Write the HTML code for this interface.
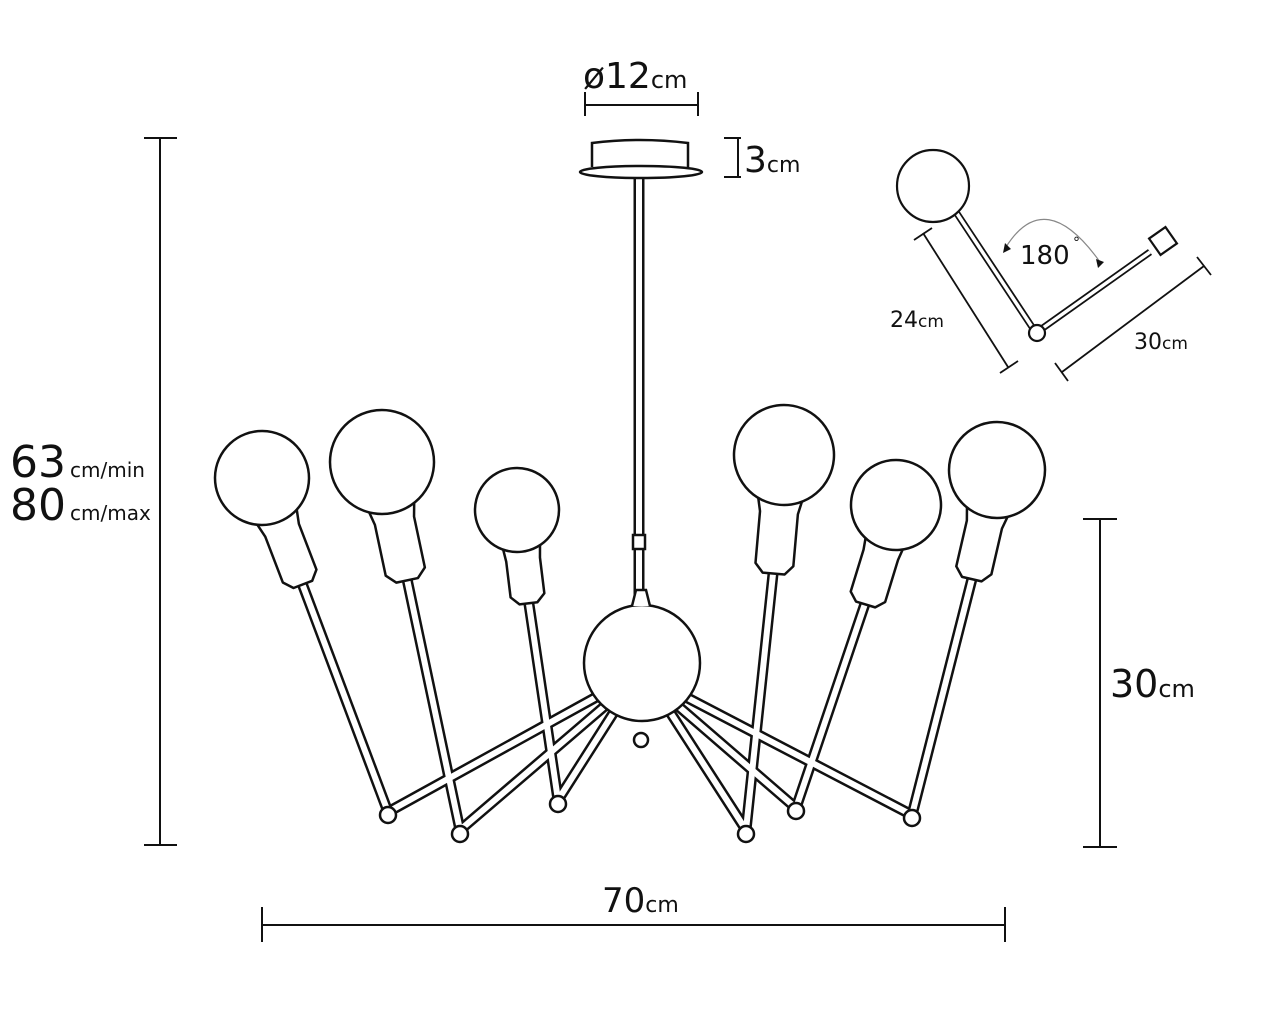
<!DOCTYPE html>
<html><head><meta charset="utf-8"><style>
html,body{margin:0;padding:0;background:#fff;}
svg{display:block;}
text{font-family:"DejaVu Sans","Liberation Sans",sans-serif;fill:#111;}
</style></head><body>
<svg width="1280" height="1025" viewBox="0 0 1280 1025" xmlns="http://www.w3.org/2000/svg">
<!-- arms black -->
<g stroke="#111" stroke-width="11" stroke-linecap="butt" fill="none">
  <line x1="294" y1="562" x2="388" y2="812"/>
  <line x1="403" y1="560" x2="460" y2="830"/>
  <line x1="526" y1="584" x2="558" y2="800"/>
  <line x1="775" y1="555" x2="746" y2="830"/>
  <line x1="871" y1="586" x2="796" y2="808"/>
  <line x1="976" y1="563" x2="912" y2="815"/>
  <line x1="600" y1="695" x2="388" y2="812"/>
  <line x1="606" y1="705" x2="460" y2="830"/>
  <line x1="614" y1="712" x2="558" y2="800"/>
  <line x1="682" y1="695" x2="912" y2="815"/>
  <line x1="678" y1="706" x2="796" y2="808"/>
  <line x1="670" y1="712" x2="746" y2="830"/>
  <line x1="639" y1="178" x2="639" y2="615"/>
</g>
<g stroke="#fff" stroke-width="6" stroke-linecap="butt" fill="none">
  <line x1="294" y1="562" x2="388" y2="812"/>
  <line x1="403" y1="560" x2="460" y2="830"/>
  <line x1="526" y1="584" x2="558" y2="800"/>
  <line x1="775" y1="555" x2="746" y2="830"/>
  <line x1="871" y1="586" x2="796" y2="808"/>
  <line x1="976" y1="563" x2="912" y2="815"/>
  <line x1="600" y1="695" x2="388" y2="812"/>
  <line x1="606" y1="705" x2="460" y2="830"/>
  <line x1="614" y1="712" x2="558" y2="800"/>
  <line x1="682" y1="695" x2="912" y2="815"/>
  <line x1="678" y1="706" x2="796" y2="808"/>
  <line x1="670" y1="712" x2="746" y2="830"/>
  <line x1="639" y1="178" x2="639" y2="615"/>
</g>
<g fill="#fff" stroke="#111" stroke-width="2.5">
  <circle cx="388" cy="815" r="8"/>
  <circle cx="460" cy="834" r="8"/>
  <circle cx="558" cy="804" r="8"/>
  <circle cx="746" cy="834" r="8"/>
  <circle cx="796" cy="811" r="8"/>
  <circle cx="912" cy="818" r="8"/>
  <rect x="633" y="535" width="12" height="14"/>
  <circle cx="641" cy="740" r="7"/>
</g>
<circle cx="642" cy="663" r="58" fill="#fff" stroke="#111" stroke-width="2.5"/>
<path d="M632 606 L636 590 L646 590 L650 606" fill="#fff" stroke="#111" stroke-width="2.5"/>
<!-- bulbs -->
<g fill="#fff" stroke="#111" stroke-width="2.5" stroke-linejoin="round">
  <g transform="translate(262,478) rotate(-21)">
    <path d="M-22 38 L-18 56 L-18 105 L-10 114 L10 114 L18 105 L18 56 L22 38 Z"/>
    <circle r="47"/>
  </g>
  <g transform="translate(382,462) rotate(-12)">
    <path d="M-24 42 L-20 60 L-20 112 L-11 121 L11 121 L20 112 L20 60 L24 42 Z"/>
    <circle r="52"/>
  </g>
  <g transform="translate(517,510) rotate(-7)">
    <path d="M-19 34 L-17 50 L-17 86 L-9 94 L9 94 L17 86 L17 50 L19 34 Z"/>
    <circle r="42"/>
  </g>
  <g transform="translate(784,455) rotate(5)">
    <path d="M-23 40 L-19 58 L-19 110 L-11 119 L11 119 L19 110 L19 58 L23 40 Z"/>
    <circle r="50"/>
  </g>
  <g transform="translate(896,505) rotate(17)">
    <path d="M-20 36 L-18 52 L-18 96 L-10 104 L10 104 L18 96 L18 52 L20 36 Z"/>
    <circle r="45"/>
  </g>
  <g transform="translate(997,470) rotate(13)">
    <path d="M-22 38 L-18 56 L-18 103 L-10 112 L10 112 L18 103 L18 56 L22 38 Z"/>
    <circle r="48"/>
  </g>
</g>
<path d="M592 167 L592 143 Q640 137 688 143 L688 167" fill="#fff" stroke="#111" stroke-width="2.5"/>
<ellipse cx="641" cy="172" rx="61" ry="6" fill="#fff" stroke="#111" stroke-width="2.5"/>
<g stroke="#111" stroke-width="2" fill="none">
  <line x1="160" y1="138" x2="160" y2="845"/>
  <line x1="144" y1="138" x2="177" y2="138"/>
  <line x1="144" y1="845" x2="177" y2="845"/>
  <line x1="262" y1="925" x2="1005" y2="925"/>
  <line x1="262" y1="907" x2="262" y2="942"/>
  <line x1="1005" y1="907" x2="1005" y2="942"/>
  <line x1="1100" y1="519" x2="1100" y2="847"/>
  <line x1="1083" y1="519" x2="1117" y2="519"/>
  <line x1="1083" y1="847" x2="1117" y2="847"/>
  <line x1="585" y1="105" x2="698" y2="105"/>
  <line x1="585" y1="92" x2="585" y2="116"/>
  <line x1="698" y1="92" x2="698" y2="116"/>
  <line x1="738" y1="138" x2="738" y2="177"/>
  <line x1="724" y1="138" x2="741" y2="138"/>
  <line x1="724" y1="177" x2="741" y2="177"/>
</g>
<text x="583" y="88" font-size="36">ø12<tspan font-size="24">cm</tspan></text>
<text x="744" y="172" font-size="36">3<tspan font-size="22">cm</tspan></text>
<text x="10" y="477" font-size="44">63<tspan font-size="20" dx="4">cm/min</tspan></text>
<text x="10" y="520" font-size="44">80<tspan font-size="20" dx="4">cm/max</tspan></text>
<text x="1110" y="697" font-size="38">30<tspan font-size="24">cm</tspan></text>
<text x="602" y="912" font-size="34">70<tspan font-size="22">cm</tspan></text>
<!-- inset -->
<g stroke="#111" stroke-width="7" fill="none"><line x1="956" y1="212" x2="1034" y2="330"/><line x1="1040" y1="330" x2="1150" y2="252"/></g>
<g stroke="#fff" stroke-width="3.5" fill="none"><line x1="956" y1="212" x2="1034" y2="330"/><line x1="1040" y1="330" x2="1150" y2="252"/></g>
<circle cx="933" cy="186" r="36" fill="#fff" stroke="#111" stroke-width="2.2"/>
<circle cx="1037" cy="333" r="8" fill="#fff" stroke="#111" stroke-width="2.2"/>
<rect x="-10" y="-10" width="20" height="20" transform="translate(1163,241) rotate(-35)" fill="#fff" stroke="#111" stroke-width="2.2"/>
<g stroke="#111" stroke-width="1.8" fill="none">
  <line x1="923" y1="233" x2="1008" y2="367"/>
  <line x1="914" y1="240" x2="932" y2="228"/>
  <line x1="1000" y1="373" x2="1018" y2="361"/>
  <line x1="1204" y1="266" x2="1062" y2="372"/>
  <line x1="1197" y1="257" x2="1211" y2="275"/>
  <line x1="1055" y1="363" x2="1068" y2="381"/>
</g>
<path d="M1006 247 Q1045 185 1100 262" stroke="#888" stroke-width="1.2" fill="none"/>
<path d="M1003 253 L1005 243 L1011 249 Z M1098 268 L1096 259 L1104 262 Z" fill="#111"/>
<text x="1020" y="264" font-size="26">180</text>
<text x="1073" y="247" font-size="14">°</text>
<text x="890" y="327" font-size="22">24<tspan font-size="17">cm</tspan></text>
<text x="1134" y="349" font-size="22">30<tspan font-size="17">cm</tspan></text>
</svg>
</body></html>
